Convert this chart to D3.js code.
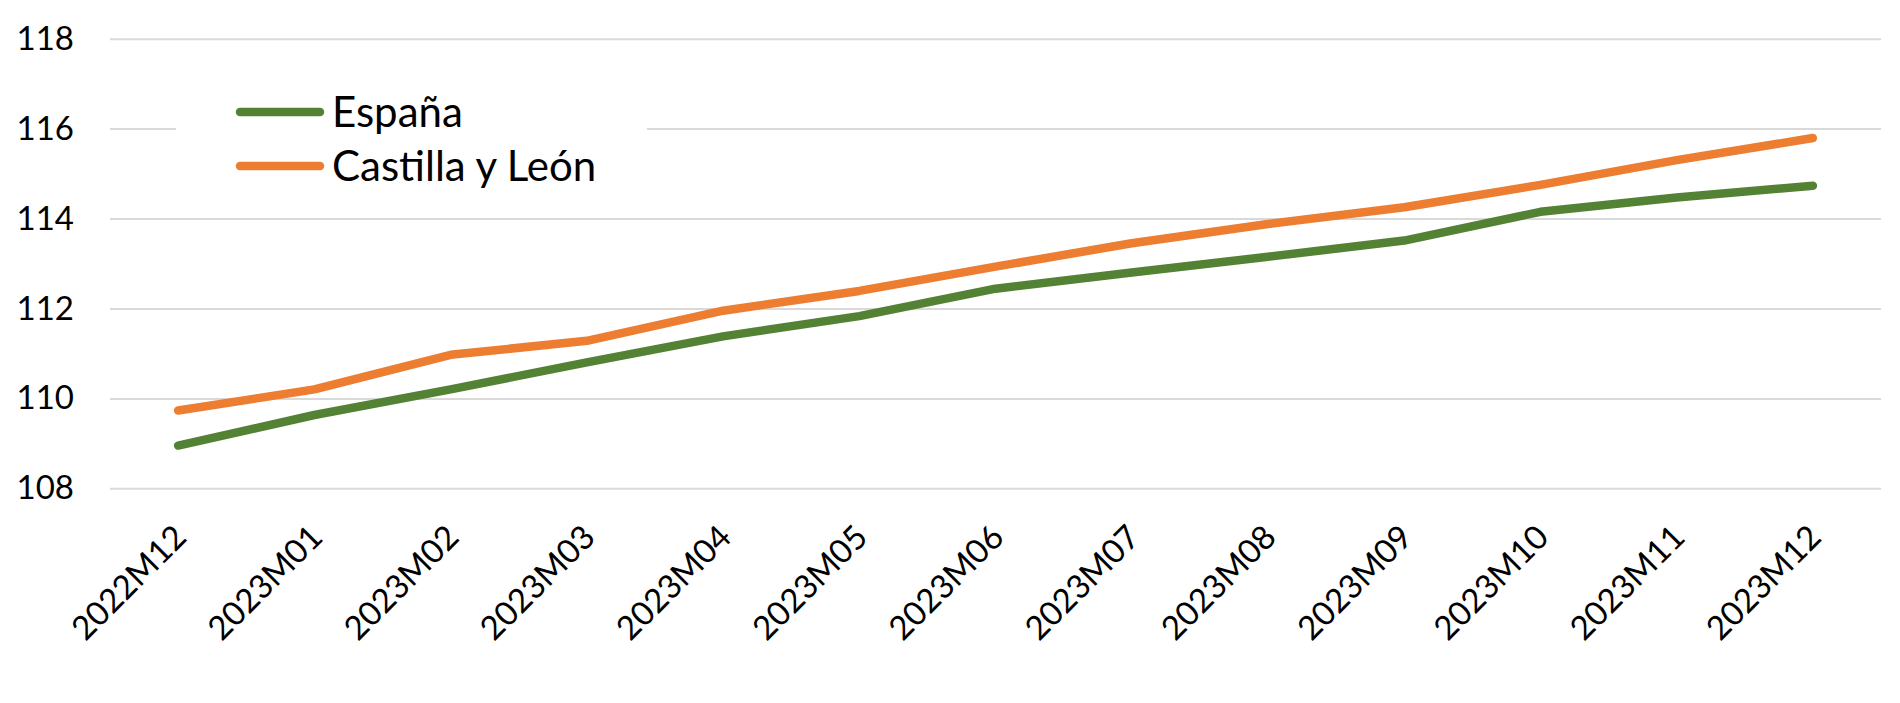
<!DOCTYPE html>
<html>
<head>
<meta charset="utf-8">
<script src="https://cdn.jsdelivr.net/npm/d3@7"></script>
<style>
  html, body { margin: 0; padding: 0; background: #ffffff; }
  svg { display: block; }
  text { font-family: Lato, "Noto Sans", sans-serif; fill: #000; }
</style>
</head>
<body>
<svg id="chart" width="1900" height="703"></svg>
<script>
const categories = ["2022M12","2023M01","2023M02","2023M03","2023M04","2023M05","2023M06","2023M07","2023M08","2023M09","2023M10","2023M11","2023M12"];
const espana = [108.95,109.63,110.20,110.80,111.38,111.83,112.44,112.80,113.15,113.51,114.15,114.47,114.73];
const castillaLeon = [109.73,110.20,110.97,111.28,111.95,112.39,112.93,113.45,113.88,114.25,114.75,115.30,115.79];
const yTicks = [108,110,112,114,116,118];
const seriesNames = ["España","Castilla y León"];
const seriesColors = ["#548235","#ED7D31"];

const svg = d3.select("#chart");
const plotLeft = 110, plotRight = 1881, plotTop = 38.7, plotBottom = 488.3;

const x = d3.scalePoint().domain(categories).range([plotLeft, plotRight]).padding(0.5);
const y = d3.scaleLinear().domain([108,118]).range([plotBottom, plotTop]);

// gridlines + y labels
const yAxis = svg.append("g")
  .attr("transform", `translate(${plotLeft},0)`)
  .call(d3.axisLeft(y).tickValues(yTicks).tickSize(-(plotRight-plotLeft)).tickPadding(36).tickFormat(d3.format("d")));
yAxis.select(".domain").remove();
yAxis.selectAll(".tick line").attr("stroke", "#D9D9D9").attr("stroke-width", 2);
yAxis.selectAll(".tick text").attr("font-size", 33).attr("font-family", "Lato, sans-serif").attr("fill", "#000");

// x labels
const xg = svg.append("g");
xg.selectAll("text").data(categories).enter().append("text")
  .attr("transform", d => `translate(${x(d) + 2},531) rotate(-45)`)
  .attr("text-anchor", "end")
  .attr("dy", "0.35em")
  .attr("font-size", 33)
  .text(d => d);

// lines
const line = d3.line().x((d,i) => x(categories[i])).y(d => y(d));
[espana, castillaLeon].forEach((s, k) => {
  svg.append("path")
    .datum(s)
    .attr("d", line)
    .attr("fill", "none")
    .attr("stroke", seriesColors[k])
    .attr("stroke-width", 8.5)
    .attr("stroke-linecap", "round")
    .attr("stroke-linejoin", "round");
});

// legend
const lg = svg.append("g");
lg.append("rect").attr("x", 176).attr("y", 84).attr("width", 471).attr("height", 112).attr("fill", "#fff");
seriesNames.forEach((n, k) => {
  const ly = 112 + k * 54;
  lg.append("line").attr("x1", 240).attr("x2", 320).attr("y1", ly).attr("y2", ly)
    .attr("stroke", seriesColors[k]).attr("stroke-width", 8.5).attr("stroke-linecap", "round");
  lg.append("text").attr("x", 332).attr("y", ly).attr("dy", "0.36em")
    .attr("font-size", 42).text(n);
});
</script>
</body>
</html>
